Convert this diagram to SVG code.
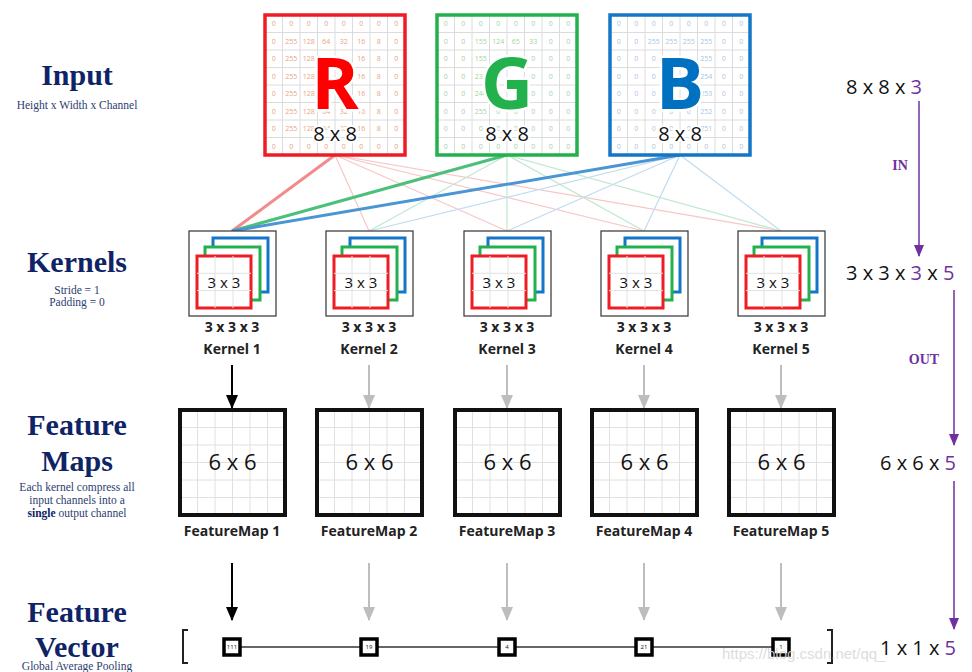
<svg xmlns="http://www.w3.org/2000/svg" xmlns:xlink="http://www.w3.org/1999/xlink" width="972" height="672" viewBox="0 0 972 672">
<style>
.ttl{font-family:"Liberation Serif",serif;font-weight:bold;fill:#0f2466;text-anchor:middle;font-size:30px}
.sub{font-family:"Liberation Serif",serif;fill:#2c3d70;text-anchor:middle;font-size:11.5px}
.num{font-family:"Open Sans","Liberation Sans",sans-serif;text-anchor:middle;font-size:7px}
.big{font-family:"Open Sans","Liberation Sans",sans-serif;font-weight:bold;text-anchor:middle;font-size:72px;stroke:#fff;stroke-width:5;paint-order:stroke}
.dim{font-family:"Open Sans","Liberation Sans",sans-serif;text-anchor:middle;font-size:20px;fill:#111;stroke:#fff;stroke-width:4;paint-order:stroke}
.lbl{font-family:"Open Sans","Liberation Sans",sans-serif;font-weight:bold;text-anchor:middle;font-size:14px;fill:#222}
.rt{font-family:"Open Sans","Liberation Sans",sans-serif;font-size:20px;fill:#111}
.pu{fill:#7030a0}
.io{font-family:"Liberation Serif",serif;font-weight:bold;font-size:14px;fill:#7030a0;text-anchor:middle}
.grid{stroke:#dcdcdc;stroke-width:1;fill:none}
.vn{font-family:"Open Sans","Liberation Sans",sans-serif;font-size:6px;text-anchor:middle;fill:#111}
.ab{stroke:#000;stroke-width:2;marker-end:url(#ahB)}
.ag{stroke:#bdbdbd;stroke-width:2;marker-end:url(#ahG)}
.ap{stroke:#7030a0;stroke-width:1.5;marker-end:url(#ahP)}
</style>
<defs>
<marker id="ahB" markerWidth="14" markerHeight="12" refX="13" refY="6" orient="auto" markerUnits="userSpaceOnUse"><path d="M0,0 L14,6 L0,12 z" fill="#000"/></marker>
<marker id="ahG" markerWidth="14" markerHeight="12" refX="13" refY="6" orient="auto" markerUnits="userSpaceOnUse"><path d="M0,0 L14,6 L0,12 z" fill="#bdbdbd"/></marker>
<marker id="ahP" markerWidth="12" markerHeight="10" refX="11" refY="5" orient="auto" markerUnits="userSpaceOnUse"><path d="M0,0 L12,5 L0,10 z" fill="#7030a0"/></marker>
<g id="grid8">
<path class="grid" d="M17.5,0V140M35,0V140M52.5,0V140M70,0V140M87.5,0V140M105,0V140M122.5,0V140M0,17.5H140M0,35H140M0,52.5H140M0,70H140M0,87.5H140M0,105H140M0,122.5H140"/>
</g>
<g id="kicon">
<rect x="0" y="0" width="87" height="85" fill="#fff" stroke="#333" stroke-width="1.2"/>
<rect x="24" y="7" width="55" height="54" fill="#fff" stroke="#1576c8" stroke-width="3"/>
<rect x="16" y="16" width="55" height="53" fill="#fff" stroke="#22b14c" stroke-width="3"/>
<rect x="8" y="25" width="54" height="52" fill="#fff" stroke="#ee1c24" stroke-width="3"/>
<path d="M26,25V77M44,25V77M8,42.3H62M8,59.6H62" stroke="#e2e2e2" stroke-width="1"/>
<text x="35" y="57" font-family="Open Sans, Liberation Sans, sans-serif" font-size="15" text-anchor="middle" fill="#111">3 x 3</text>
</g>
<g id="fmap">
<path d="M17.5,0V105M35,0V105M52.5,0V105M70,0V105M87.5,0V105M0,17.5H105M0,35H105M0,52.5H105M0,70H105M0,87.5H105" stroke="#e0e0e0" stroke-width="1"/>
<rect x="0" y="0" width="105" height="105" fill="none" stroke="#111" stroke-width="4"/>
<text x="52.5" y="60" font-family="Open Sans, Liberation Sans, sans-serif" font-size="22" text-anchor="middle" fill="#111">6 x 6</text>
</g>
</defs>
<rect width="972" height="672" fill="#fff"/>

<!-- left titles -->
<g id="label-input">
<text class="ttl" x="77" y="85">Input</text>
<text class="sub" x="77" y="109">Height x Width x Channel</text>
</g>
<g id="label-kernels">
<text class="ttl" x="77" y="272">Kernels</text>
<text class="sub" x="77" y="294">Stride = 1</text>
<text class="sub" x="77" y="306">Padding = 0</text>
</g>
<g id="label-fmaps">
<text class="ttl" x="77" y="435">Feature</text>
<text class="ttl" x="77" y="471">Maps</text>
<text class="sub" x="77" y="491">Each kernel compress all</text>
<text class="sub" x="77" y="504">input channels into a</text>
<text class="sub" x="77" y="517"><tspan font-weight="bold" fill="#0f2466">single</tspan> output channel</text>
</g>
<g id="label-fvec">
<text class="ttl" x="77" y="622">Feature</text>
<text class="ttl" x="77" y="657">Vector</text>
<text class="sub" x="77" y="670">Global Average Pooling</text>
</g>

<!-- connectors -->
<g id="connectors" fill="none">
<g stroke-width="1.2" opacity="0.55">
<path stroke="#f29a9a" d="M335,155L369,231M335,155L507,231M335,155L644,231M335,155L781,231"/>
<path stroke="#8fd6a8" d="M507,155L369,231M507,155L507,231M507,155L644,231M507,155L781,231"/>
<path stroke="#8ec0e6" d="M680,155L369,231M680,155L507,231M680,155L644,231M680,155L781,231"/>
</g>
<path stroke="#f28b8b" stroke-width="3" d="M335,155L232,231"/>
<path stroke="#4cc07a" stroke-width="3" d="M507,155L232,231"/>
<path stroke="#4a95d3" stroke-width="3" d="M680,155L232,231"/>
<path class="ab" d="M232,365V408"/>
<path class="ag" d="M369,365V408"/>
<path class="ag" d="M507,365V408"/>
<path class="ag" d="M644,365V408"/>
<path class="ag" d="M781,365V408"/>
<path class="ab" d="M232,563V620"/>
<path class="ag" d="M369,563V620"/>
<path class="ag" d="M507,563V620"/>
<path class="ag" d="M644,563V620"/>
<path class="ag" d="M781,563V620"/>
<path stroke="#333" stroke-width="1.5" d="M232,647H781"/>
<path class="ap" d="M919,101V256"/>
<path class="ap" d="M954,290V445"/>
<path class="ap" d="M954,481V629"/>
</g>

<!-- input R -->
<g id="input-R" transform="translate(265,15)">
<rect width="140" height="140" fill="#fff"/>
<use href="#grid8"/>
<g class="num" fill="#e8a57f">
<text y="11"><tspan x="8.75">0</tspan><tspan x="26.25">0</tspan><tspan x="43.75">0</tspan><tspan x="61.25">0</tspan><tspan x="78.75">0</tspan><tspan x="96.25">0</tspan><tspan x="113.75">0</tspan><tspan x="131.25">0</tspan></text>
<text y="28.5"><tspan x="8.75">0</tspan><tspan x="26.25">255</tspan><tspan x="43.75">128</tspan><tspan x="61.25">64</tspan><tspan x="78.75">32</tspan><tspan x="96.25">16</tspan><tspan x="113.75">8</tspan><tspan x="131.25">0</tspan></text>
<text y="46"><tspan x="8.75">0</tspan><tspan x="26.25">255</tspan><tspan x="43.75">128</tspan><tspan x="96.25">16</tspan><tspan x="113.75">8</tspan><tspan x="131.25">0</tspan></text>
<text y="63.5"><tspan x="8.75">0</tspan><tspan x="26.25">255</tspan><tspan x="43.75">128</tspan><tspan x="96.25">16</tspan><tspan x="113.75">8</tspan><tspan x="131.25">0</tspan></text>
<text y="81"><tspan x="8.75">0</tspan><tspan x="26.25">255</tspan><tspan x="43.75">128</tspan><tspan x="96.25">16</tspan><tspan x="113.75">8</tspan><tspan x="131.25">0</tspan></text>
<text y="98.5"><tspan x="8.75">0</tspan><tspan x="26.25">255</tspan><tspan x="43.75">128</tspan><tspan x="61.25">64</tspan><tspan x="78.75">32</tspan><tspan x="96.25">16</tspan><tspan x="113.75">8</tspan><tspan x="131.25">0</tspan></text>
<text y="116"><tspan x="8.75">0</tspan><tspan x="26.25">255</tspan><tspan x="43.75">128</tspan><tspan x="61.25">64</tspan><tspan x="78.75">32</tspan><tspan x="96.25">16</tspan><tspan x="113.75">8</tspan><tspan x="131.25">0</tspan></text>
<text y="133.5"><tspan x="8.75">0</tspan><tspan x="26.25">0</tspan><tspan x="43.75">0</tspan><tspan x="61.25">0</tspan><tspan x="78.75">0</tspan><tspan x="96.25">0</tspan><tspan x="113.75">0</tspan><tspan x="131.25">0</tspan></text>
</g>
<text class="big" x="70" y="94" fill="#ff0000">R</text>
<text class="dim" x="70" y="126">8 x 8</text>
<rect width="140" height="140" fill="none" stroke="#ee1c24" stroke-width="3.5"/>
</g>

<!-- input G -->
<g id="input-G" transform="translate(437,15)">
<rect width="140" height="140" fill="#fff"/>
<use href="#grid8"/>
<g class="num" fill="#9fd49f">
<text y="11"><tspan x="8.75">0</tspan><tspan x="26.25">0</tspan><tspan x="43.75">0</tspan><tspan x="61.25">0</tspan><tspan x="78.75">0</tspan><tspan x="96.25">0</tspan><tspan x="113.75">0</tspan><tspan x="131.25">0</tspan></text>
<text y="28.5"><tspan x="8.75">0</tspan><tspan x="26.25">0</tspan><tspan x="43.75">155</tspan><tspan x="61.25">124</tspan><tspan x="78.75">65</tspan><tspan x="96.25">33</tspan><tspan x="113.75">0</tspan><tspan x="131.25">0</tspan></text>
<text y="46"><tspan x="8.75">0</tspan><tspan x="26.25">0</tspan><tspan x="43.75">155</tspan><tspan x="96.25">0</tspan><tspan x="113.75">0</tspan><tspan x="131.25">0</tspan></text>
<text y="63.5"><tspan x="8.75">0</tspan><tspan x="26.25">0</tspan><tspan x="43.75">233</tspan><tspan x="96.25">0</tspan><tspan x="113.75">0</tspan><tspan x="131.25">0</tspan></text>
<text y="81"><tspan x="8.75">0</tspan><tspan x="26.25">0</tspan><tspan x="43.75">244</tspan><tspan x="96.25">0</tspan><tspan x="113.75">0</tspan><tspan x="131.25">0</tspan></text>
<text y="98.5"><tspan x="8.75">0</tspan><tspan x="26.25">0</tspan><tspan x="43.75">255</tspan><tspan x="61.25">0</tspan><tspan x="78.75">0</tspan><tspan x="96.25">0</tspan><tspan x="113.75">0</tspan><tspan x="131.25">0</tspan></text>
<text y="116"><tspan x="8.75">0</tspan><tspan x="26.25">0</tspan><tspan x="43.75">0</tspan><tspan x="61.25">0</tspan><tspan x="78.75">0</tspan><tspan x="96.25">0</tspan><tspan x="113.75">0</tspan><tspan x="131.25">0</tspan></text>
<text y="133.5"><tspan x="8.75">0</tspan><tspan x="26.25">0</tspan><tspan x="43.75">0</tspan><tspan x="61.25">0</tspan><tspan x="78.75">0</tspan><tspan x="96.25">0</tspan><tspan x="113.75">0</tspan><tspan x="131.25">0</tspan></text>
</g>
<text class="big" x="70" y="94" fill="#22b14c">G</text>
<text class="dim" x="70" y="126">8 x 8</text>
<rect width="140" height="140" fill="none" stroke="#22b14c" stroke-width="3.5"/>
</g>

<!-- input B -->
<g id="input-B" transform="translate(610,15)">
<rect width="140" height="140" fill="#fff"/>
<use href="#grid8"/>
<g class="num" fill="#a9c5e2">
<text y="11"><tspan x="8.75">0</tspan><tspan x="26.25">0</tspan><tspan x="43.75">0</tspan><tspan x="61.25">0</tspan><tspan x="78.75">0</tspan><tspan x="96.25">0</tspan><tspan x="113.75">0</tspan><tspan x="131.25">0</tspan></text>
<text y="28.5"><tspan x="8.75">0</tspan><tspan x="26.25">0</tspan><tspan x="43.75">255</tspan><tspan x="61.25">255</tspan><tspan x="78.75">255</tspan><tspan x="96.25">255</tspan><tspan x="113.75">0</tspan><tspan x="131.25">0</tspan></text>
<text y="46"><tspan x="8.75">0</tspan><tspan x="26.25">0</tspan><tspan x="43.75">0</tspan><tspan x="96.25">255</tspan><tspan x="113.75">0</tspan><tspan x="131.25">0</tspan></text>
<text y="63.5"><tspan x="8.75">0</tspan><tspan x="26.25">0</tspan><tspan x="43.75">0</tspan><tspan x="96.25">254</tspan><tspan x="113.75">0</tspan><tspan x="131.25">0</tspan></text>
<text y="81"><tspan x="8.75">0</tspan><tspan x="26.25">0</tspan><tspan x="43.75">0</tspan><tspan x="96.25">253</tspan><tspan x="113.75">0</tspan><tspan x="131.25">0</tspan></text>
<text y="98.5"><tspan x="8.75">0</tspan><tspan x="26.25">0</tspan><tspan x="43.75">0</tspan><tspan x="61.25">0</tspan><tspan x="78.75">0</tspan><tspan x="96.25">252</tspan><tspan x="113.75">0</tspan><tspan x="131.25">0</tspan></text>
<text y="116"><tspan x="8.75">0</tspan><tspan x="26.25">0</tspan><tspan x="43.75">0</tspan><tspan x="61.25">0</tspan><tspan x="78.75">0</tspan><tspan x="96.25">251</tspan><tspan x="113.75">0</tspan><tspan x="131.25">0</tspan></text>
<text y="133.5"><tspan x="8.75">0</tspan><tspan x="26.25">0</tspan><tspan x="43.75">0</tspan><tspan x="61.25">0</tspan><tspan x="78.75">0</tspan><tspan x="96.25">0</tspan><tspan x="113.75">0</tspan><tspan x="131.25">0</tspan></text>
</g>
<text class="big" x="70" y="94" fill="#0070c0">B</text>
<text class="dim" x="70" y="126">8 x 8</text>
<rect width="140" height="140" fill="none" stroke="#1576c8" stroke-width="3.5"/>
</g>

<!-- kernels -->
<g id="kernel-1"><use href="#kicon" x="189" y="231"/><text class="lbl" x="232" y="332">3 x 3 x 3</text><text class="lbl" x="232" y="354">Kernel 1</text></g>
<g id="kernel-2"><use href="#kicon" x="326" y="231"/><text class="lbl" x="369" y="332">3 x 3 x 3</text><text class="lbl" x="369" y="354">Kernel 2</text></g>
<g id="kernel-3"><use href="#kicon" x="464" y="231"/><text class="lbl" x="507" y="332">3 x 3 x 3</text><text class="lbl" x="507" y="354">Kernel 3</text></g>
<g id="kernel-4"><use href="#kicon" x="601" y="231"/><text class="lbl" x="644" y="332">3 x 3 x 3</text><text class="lbl" x="644" y="354">Kernel 4</text></g>
<g id="kernel-5"><use href="#kicon" x="738" y="231"/><text class="lbl" x="781" y="332">3 x 3 x 3</text><text class="lbl" x="781" y="354">Kernel 5</text></g>

<!-- feature maps -->
<g id="fmap-1"><use href="#fmap" x="180" y="410"/><text class="lbl" x="232" y="536">FeatureMap 1</text></g>
<g id="fmap-2"><use href="#fmap" x="317" y="410"/><text class="lbl" x="369" y="536">FeatureMap 2</text></g>
<g id="fmap-3"><use href="#fmap" x="455" y="410"/><text class="lbl" x="507" y="536">FeatureMap 3</text></g>
<g id="fmap-4"><use href="#fmap" x="592" y="410"/><text class="lbl" x="644" y="536">FeatureMap 4</text></g>
<g id="fmap-5"><use href="#fmap" x="729" y="410"/><text class="lbl" x="781" y="536">FeatureMap 5</text></g>

<!-- feature vector -->
<g id="fvec-brackets" fill="none" stroke="#222" stroke-width="2">
<path d="M188,630H183V663H188"/>
<path d="M827,630H832V663H827"/>
</g>
<g id="fv-1"><rect x="224" y="639" width="16" height="16" fill="#fff" stroke="#000" stroke-width="3.5"/><text class="vn" x="232" y="649">111</text></g>
<g id="fv-2"><rect x="361" y="639" width="16" height="16" fill="#fff" stroke="#000" stroke-width="3.5"/><text class="vn" x="369" y="649">19</text></g>
<g id="fv-3"><rect x="499" y="639" width="16" height="16" fill="#fff" stroke="#000" stroke-width="3.5"/><text class="vn" x="507" y="649">4</text></g>
<g id="fv-4"><rect x="636" y="639" width="16" height="16" fill="#fff" stroke="#000" stroke-width="3.5"/><text class="vn" x="644" y="649">21</text></g>
<g id="fv-5"><rect x="773" y="639" width="16" height="16" fill="#fff" stroke="#000" stroke-width="3.5"/><text class="vn" x="781" y="649">1</text></g>

<!-- right dims -->
<g id="dim-input"><text class="rt" x="846" y="94">8 x 8 x <tspan class="pu">3</tspan></text></g>
<g id="label-in"><text class="io" x="900" y="170">IN</text></g>
<g id="dim-kernel"><text class="rt" x="846" y="280">3 x 3 x <tspan class="pu">3</tspan> x <tspan class="pu">5</tspan></text></g>
<g id="label-out"><text class="io" x="924" y="364">OUT</text></g>
<g id="dim-fmap"><text class="rt" x="880" y="470">6 x 6 x <tspan class="pu">5</tspan></text></g>
<g id="dim-fvec"><text class="rt" x="880" y="655">1 x 1 x <tspan class="pu">5</tspan></text></g>

<text x="722" y="659" font-family="Liberation Sans, sans-serif" font-size="15" fill="#d8d8d8" opacity="0.85">https://blog.csdn.net/qq_</text>
</svg>
